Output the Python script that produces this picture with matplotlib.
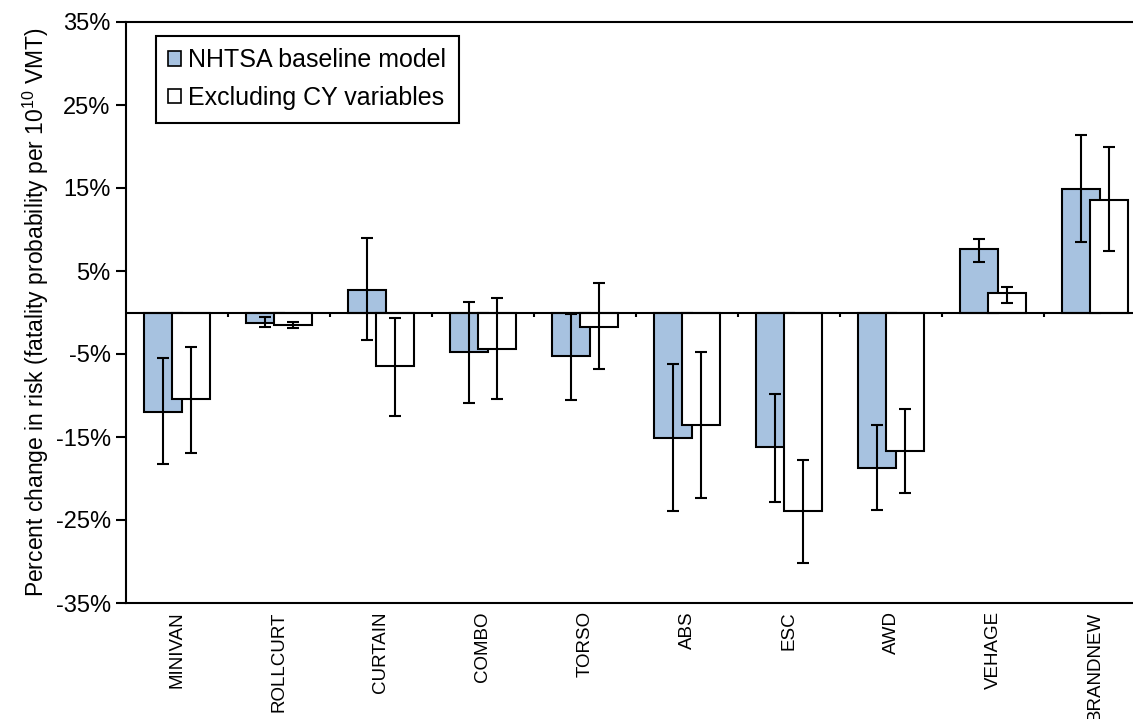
import numpy as np
import matplotlib
matplotlib.use("Agg")
import matplotlib.pyplot as plt
from matplotlib.patches import Patch

plt.rcParams['font.family'] = ['Liberation Sans', 'DejaVu Sans']
plt.rcParams['mathtext.fontset'] = 'custom'
plt.rcParams['mathtext.rm'] = 'Liberation Sans'

# data (percent change in risk)
categories = ['MINIVAN', 'ROLLCURT', 'CURTAIN', 'COMBO', 'TORSO',
              'ABS', 'ESC', 'AWD', 'VEHAGE', 'BRANDNEW']
base_val = [-12.0, -1.3, 2.7, -4.8, -5.3, -15.1, -16.2, -18.7, 7.6, 14.9]
base_lo = [-18.3, -1.7, -3.3, -10.9, -10.5, -23.9, -22.8, -23.8, 6.1, 8.5]
base_hi = [-5.5, -0.6, 9.0, 1.3, -0.2, -6.2, -9.8, -13.5, 8.9, 21.4]
excl_val = [-10.4, -1.5, -6.4, -4.4, -1.7, -13.6, -23.9, -16.7, 2.3, 13.6]
excl_lo = [-16.9, -1.9, -12.5, -10.4, -6.8, -22.4, -30.2, -21.8, 1.1, 7.4]
excl_hi = [-4.2, -1.1, -0.7, 1.8, 3.6, -4.8, -17.8, -11.6, 3.1, 20.0]
yticks = [-35, -25, -15, -5, 5, 15, 25, 35]

blue = '#a7c2e0'
x = np.arange(len(categories))
w = 0.365
off = 0.137

fig = plt.figure(figsize=(11.33, 7.19), dpi=100)
# axes runs past the right edge of the figure, as in the source image
ax = fig.add_axes([126 / 1133, 1 - 603 / 719, 1020 / 1133, 581 / 719])

def err(v, lo, hi):
    v, lo, hi = np.array(v), np.array(lo), np.array(hi)
    return np.vstack([v - lo, hi - v])

ax.bar(x - off, base_val, w, color=blue, edgecolor='black', linewidth=1.5, zorder=2)
ax.errorbar(x - off, base_val, yerr=err(base_val, base_lo, base_hi), fmt='none',
            ecolor='black', elinewidth=1.5, capsize=4, capthick=1.5, zorder=3)
ax.bar(x + off, excl_val, w, color='white', edgecolor='black', linewidth=1.5, zorder=4)
ax.errorbar(x + off, excl_val, yerr=err(excl_val, excl_lo, excl_hi), fmt='none',
            ecolor='black', elinewidth=1.5, capsize=4, capthick=1.5, zorder=5)

# zero line with small tick marks between categories
ax.axhline(0, color='black', linewidth=1.5, zorder=6)
ax.vlines(x[:-1] + 0.5, -0.5, 0, color='black', linewidth=1.5, zorder=6)

ax.set_xlim(-0.5, len(categories) - 0.5)
ax.set_ylim(-35, 35)
ax.set_yticks(yticks)
ax.set_yticklabels(['%d%%' % t for t in yticks], fontsize=17)
ax.set_xticks(x)
ax.set_xticklabels(categories, rotation=90, fontsize=13.5)
ax.tick_params(axis='x', length=0, pad=6)
ax.tick_params(axis='y', length=7, width=1.5, pad=4)
for s in ['left', 'bottom', 'top', 'right']:
    ax.spines[s].set_linewidth(1.5)

ax.set_ylabel(r'Percent change in risk (fatality probability per 10$^{10}$ VMT)',
              fontsize=16.5, labelpad=3)

handles = [Patch(facecolor=blue, edgecolor='black', linewidth=1.2),
           Patch(facecolor='white', edgecolor='black', linewidth=1.2)]
leg = ax.legend(handles, ['NHTSA baseline model', 'Excluding CY variables'],
                loc='upper left', bbox_to_anchor=(0.029, 0.976), borderaxespad=0,
                fontsize=18, handlelength=0.5, handleheight=0.5, handletextpad=0.3,
                labelspacing=0.55, borderpad=0.5, fancybox=False, framealpha=1)
leg.get_frame().set_edgecolor('black')
leg.get_frame().set_linewidth(1.5)

fig.savefig('out.png', dpi=100)
